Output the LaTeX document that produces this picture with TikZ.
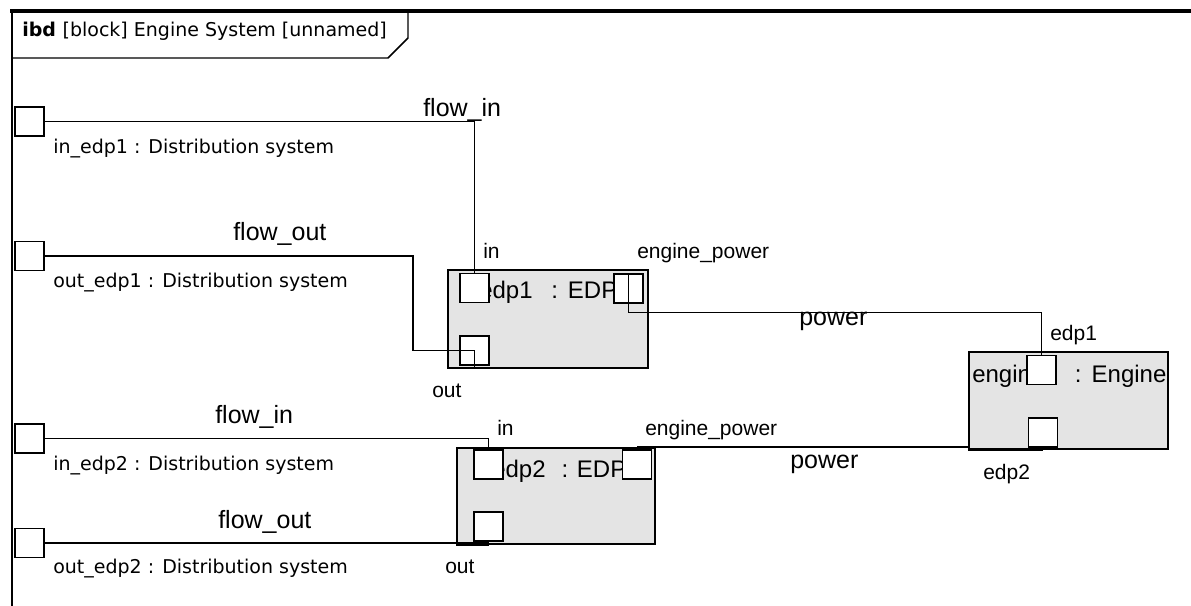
\documentclass[tikz,border=0pt]{standalone}
\usepackage{fontspec}
\setmainfont{Liberation Sans}
\newfontfamily\tahomafont{DejaVu Sans}
\usetikzlibrary{positioning, calc}
\definecolor{blockfill}{HTML}{E4E4E4}

\tikzset{
  port/.style={draw, fill=white, line width=1.1pt, minimum size=21.5pt, inner sep=0pt},
  partbox/.style={draw, fill=blockfill, line width=1.2pt, inner sep=0pt},
  conn/.style={line width=1.1pt},
  thickend/.style={line width=2.4pt},
  lbl/.style={font=\fontsize{15.75}{18}\selectfont, inner sep=0pt, anchor=base west},
  flowlbl/.style={font=\fontsize{18.75}{22}\selectfont, inner sep=0pt, anchor=base west},
  titlelbl/.style={font=\fontsize{18}{21}\selectfont, inner sep=0pt, anchor=base west},
  namelbl/.style={font=\tahomafont\fontsize{14.25}{17}\selectfont, inner sep=0pt, anchor=base west}
}

\begin{document}
\begin{tikzpicture}[x=0.75pt, y=-0.75pt]
  \useasboundingbox (0,0) rectangle (1191,606);
  % frame and heading
  \draw[line width=2.6pt] (10,11) -- (1191,11);
  \draw[line width=2.2pt] (12,10) -- (12,606);
  \draw[line width=1.1pt] (12,58) -- (388,58) -- (408,38) -- (408,11);
  \node[namelbl] (heading) at (22,37) {\textbf{ibd}\hspace{5pt}[block] Engine System [unnamed]};

  % parts
  \node[partbox, minimum width=150pt, minimum height=73.5pt] (edp1) at (548,319) {};
  \node[partbox, minimum width=148.5pt, minimum height=72pt] (edp2) at (556,496) {};
  \node[partbox, minimum width=149.25pt, minimum height=72.75pt] (engine) at (1068.5,400.5) {};
  \node[titlelbl] (edp1name) at (479,298) {edp1\hspace{14pt}:\hspace{7.5pt}EDP};
  \node[titlelbl] (edp2name) at (492,477) {edp2\hspace{12pt}:\hspace{6.5pt}EDP};
  \node[titlelbl] (enginename) at (972,382) {engine\hspace{23pt}:\hspace{7.5pt}Engine};

  % ports
  \node[port] (inedp1) at (29.5,121.5) {};
  \node[port] (outedp1) at (29.5,256) {};
  \node[port] (inedp2) at (29.5,438.5) {};
  \node[port] (outedp2) at (29.5,543) {};
  \node[port] (edp1in) at (474.5,288) {};
  \node[port] (edp1out) at (474.5,350.5) {};
  \node[port] (edp1pw) at (628.5,288.5) {};
  \node[port] (edp2in) at (488.5,464.5) {};
  \node[port] (edp2out) at (488.5,526.5) {};
  \node[port] (edp2pw) at (637,464.5) {};
  \node[port] (engin1) at (1041.5,370) {};
  \node[port] (engin2) at (1043,432.5) {};

  % connectors
  \coordinate (bendout) at (413,350.5);
  \draw[conn] (inedp1.east) -| (edp1in.north);
  \draw[conn] (outedp1.east) -| (bendout) -- (edp1out.center) -- (edp1out.center |- edp1.south);
  \draw[conn] (edp1pw.north) -- ++(0,39) -| (engin1.north);
  \draw[conn] (inedp2.east) -| (edp2in.north);
  \draw[conn] (outedp2.east) -| (edp2out.south);
  \draw[conn] (edp2pw.north |- edp2.north) -- (edp2.north -| engine.south west);
  \draw[thickend] (edp2.south west) -- (edp2out.south |- edp2.south);
  \draw[thickend] (edp2pw.north |- edp2.north) -- (edp2.north east);
  \draw[thickend] (engine.south west) -- (engin2.south |- engine.south);

  % labels
  \node[flowlbl] (flowin1) at (423,117) {flow\_in};
  \node[flowlbl] (flowout1) at (233,240) {flow\_out};
  \node[flowlbl] (power1) at (799,325) {power};
  \node[flowlbl] (flowin2) at (215,423) {flow\_in};
  \node[flowlbl] (flowout2) at (218,528) {flow\_out};
  \node[flowlbl] (power2) at (790,468) {power};
  \node[namelbl] (inedp1name) at (53,154) {in\_edp1 : Distribution system};
  \node[namelbl] (outedp1name) at (53,287) {out\_edp1 : Distribution system};
  \node[namelbl] (inedp2name) at (53,470) {in\_edp2 : Distribution system};
  \node[namelbl] (outedp2name) at (53,573) {out\_edp2 : Distribution system};
  \node[lbl] (edp1inlbl) at (483,258) {in};
  \node[lbl] (edp1pwlbl) at (637,258) {engine\_power};
  \node[lbl] (edp1outlbl) at (432,397) {out};
  \node[lbl] (edp2inlbl) at (497,435) {in};
  \node[lbl] (edp2pwlbl) at (645,435) {engine\_power};
  \node[lbl] (edp2outlbl) at (445,573) {out};
  \node[lbl] (engin1lbl) at (1050,340) {edp1};
  \node[lbl] (engin2lbl) at (983,479) {edp2};
\end{tikzpicture}
\end{document}
